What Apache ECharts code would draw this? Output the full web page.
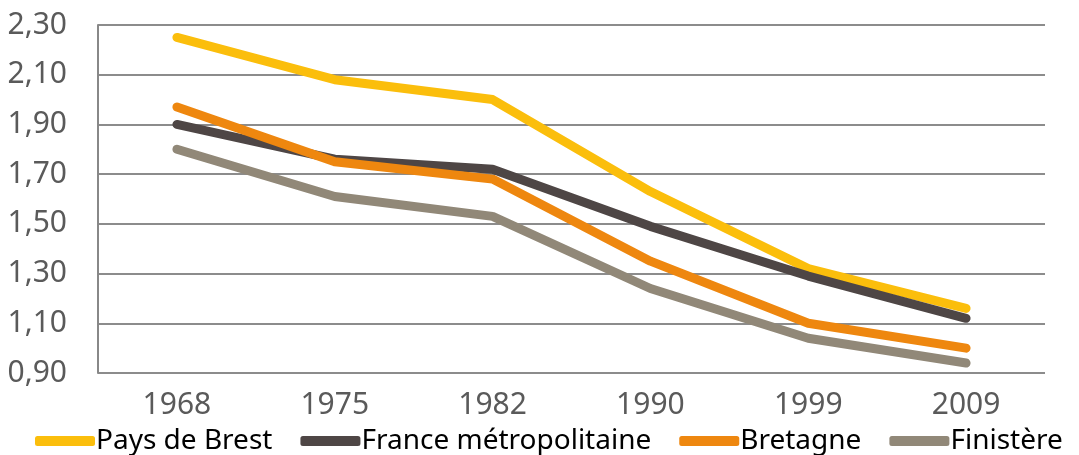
<html>
<head>
<meta charset="UTF-8">
<title>Indicateur</title>
<script src="https://cdn.jsdelivr.net/npm/echarts@6/dist/echarts.min.js"></script>
<style>html,body,#container{width:100%;height:100%;margin:0;padding:0;background:#fff;}</style>
</head>
<body>
<div id="container"></div>
<script>
var years = ['1968', '1975', '1982', '1990', '1999', '2009'];
var paysDeBrest = [2.25, 2.08, 2.00, 1.63, 1.32, 1.16];
var franceMetro = [1.90, 1.76, 1.72, 1.49, 1.29, 1.12];
var bretagne = [1.97, 1.75, 1.68, 1.35, 1.10, 1.00];
var finistere = [1.80, 1.61, 1.53, 1.24, 1.04, 0.94];

var names = ['Pays de Brest', 'France métropolitaine', 'Bretagne', 'Finistère'];
var colors = ['#FBBE0C', '#4E4645', '#EE870F', '#918878'];
var values = [paysDeBrest, franceMetro, bretagne, finistere];

var myChart = echarts.init(document.getElementById('container'));

var series = [];
for (var i = 0; i < names.length; i++) {
	series.push({
		name: names[i],
		type: 'line',
		data: values[i],
		symbol: 'none',
		lineStyle: {width: 9, color: colors[i], cap: 'round', join: 'round'},
		itemStyle: {color: colors[i]}
	});
}

myChart.setOption({
	animation: false,
	textStyle: {fontFamily: 'Noto Sans'},
	grid: {left: 98, right: 34, top: 25, bottom: 82},
	legend: {
		bottom: -5,
		left: 30,
		width: 1049,
		itemWidth: 60,
		itemHeight: 10,
		itemGap: 28,
		icon: 'roundRect',
		textStyle: {fontSize: 28, color: '#000', fontFamily: 'Noto Sans', padding: [0, 0, 0, -4]},
		data: names
	},
	xAxis: {
		type: 'category',
		data: years,
		axisLine: {show: false},
		axisTick: {show: false},
		axisLabel: {fontSize: 30, color: '#5a5a5a', margin: 17}
	},
	yAxis: {
		type: 'value',
		min: 0.9,
		max: 2.3,
		interval: 0.2,
		axisLine: {show: true, lineStyle: {color: '#888', width: 2}},
		axisTick: {show: false},
		splitLine: {lineStyle: {color: '#8c8c8c', width: 2}},
		axisLabel: {
			fontSize: 30,
			color: '#5a5a5a',
			margin: 31,
			formatter: function (v) { return v.toFixed(2).replace('.', ','); }
		}
	},
	series: series
});

window.onresize = function () {
	myChart.resize();
};
</script>
</body>
</html>
